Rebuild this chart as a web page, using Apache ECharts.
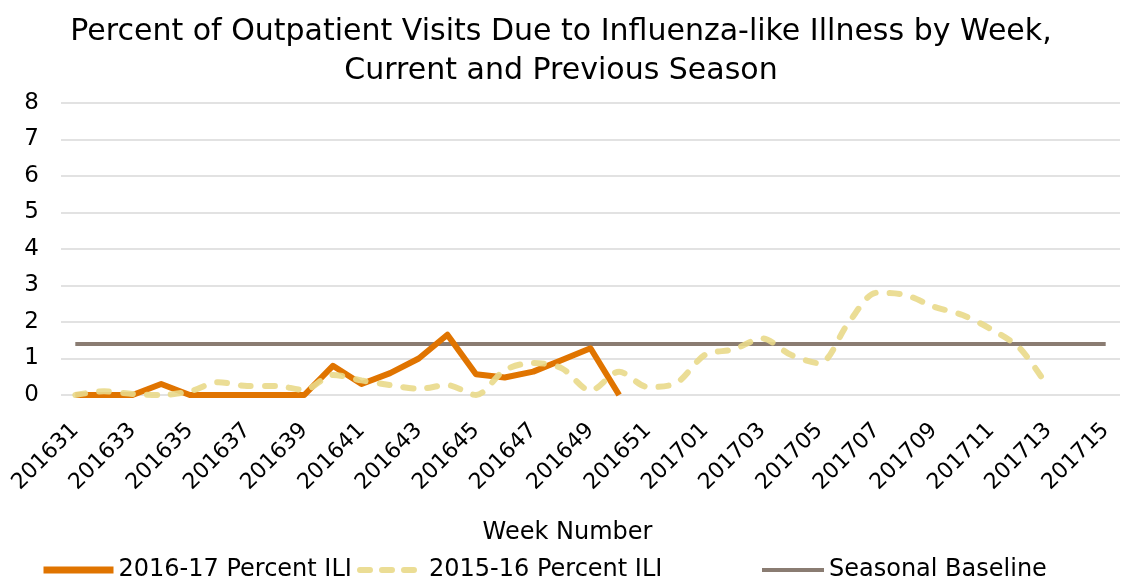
<!DOCTYPE html>
<html><head><meta charset="utf-8">
<script src="https://cdn.jsdelivr.net/npm/echarts@6/dist/echarts.min.js"></script>
<style>html,body{margin:0;padding:0;background:#fff}#c{width:1142px;height:581px}</style>
</head><body><div id="c"></div>
<script>
var weeks = ['201631','201632','201633','201634','201635','201636','201637','201638','201639','201640',
  '201641','201642','201643','201644','201645','201646','201647','201648','201649','201650',
  '201651','201652','201701','201702','201703','201704','201705','201706','201707','201708',
  '201709','201710','201711','201712','201713','201714','201715'];
var ili1617 = [0,0,0,0.3,0,0,0,0,0,0.8,0.3,0.6,1.0,1.65,0.57,0.48,0.64,0.96,1.28,0];
var ili1516 = [0,0.1,0.03,0,0.1,0.35,0.25,0.25,0.14,0.55,0.4,0.27,0.17,0.27,0,0.68,0.88,0.73,0.12,0.64,
  0.22,0.33,1.1,1.25,1.55,1.1,0.87,1.96,2.8,2.74,2.42,2.19,1.8,1.28,0.2];
var baselineValue = 1.4;
var baseline = weeks.map(function(){return baselineValue;});
var yTicks = {min:0, max:8, interval:1};

var FONT = 'DejaVu Sans';
var legendCommon = {top:553, itemHeight:14, itemGap:8,
  itemStyle:{opacity:0}, textStyle:{fontFamily:FONT, fontSize:24, color:'#000'}};
var chart = echarts.init(document.getElementById('c'));
chart.setOption({
  animation:false,
  textStyle:{fontFamily:FONT},
  title:{
    text:'Percent of Outpatient Visits Due to Influenza-like Illness by Week,\nCurrent and Previous Season',
    left:556, textAlign:'center', top:8,
    textStyle:{fontFamily:FONT, fontSize:30, fontWeight:'normal', color:'#000', lineHeight:39}
  },
  legend:[
    Object.assign({data:['2016-17 Percent ILI'], left:35, itemWidth:70,
      lineStyle:{width:7, color:'#E07400'}}, legendCommon),
    Object.assign({data:['2015-16 Percent ILI'], left:352, itemWidth:64,
      lineStyle:{width:6, color:'#E9D98A', type:[10,12], cap:'round'}}, legendCommon),
    Object.assign({data:['Seasonal Baseline'], left:755, itemWidth:62,
      lineStyle:{width:4, color:'#8A7C72'}}, legendCommon)
  ],
  grid:{left:61, right:22, top:103, bottom:186, containLabel:false},
  xAxis:{
    type:'category', data:weeks, boundaryGap:true,
    name:'Week Number', nameLocation:'middle', nameGap:126,
    nameTextStyle:{fontFamily:FONT, fontSize:24, color:'#000', padding:[0,46,0,0]},
    axisLine:{show:false}, axisTick:{show:false},
    axisLabel:{interval:1, rotate:45, fontFamily:FONT, fontSize:22, color:'#000', margin:32}
  },
  yAxis:{
    type:'value', min:yTicks.min, max:yTicks.max, interval:yTicks.interval,
    axisLine:{show:false}, axisTick:{show:false},
    axisLabel:{fontFamily:FONT, fontSize:23, color:'#000', margin:22},
    splitLine:{lineStyle:{color:'#D9D9D9', width:1.5}}
  },
  series:[
    {name:'Seasonal Baseline', type:'line', data:baseline, symbol:'none', z:1,
     lineStyle:{color:'#8A7C72', width:4}, itemStyle:{color:'#8A7C72'}},
    {name:'2016-17 Percent ILI', type:'line', data:ili1617, symbol:'none', z:2,
     lineStyle:{color:'#E07400', width:6, join:'round'}, itemStyle:{color:'#E07400'}},
    {name:'2015-16 Percent ILI', type:'line', data:ili1516, symbol:'none', z:3, smooth:0.3,
     lineStyle:{color:'#E9D98A', width:6, type:[10,14], cap:'round', opacity:0.9}, itemStyle:{color:'#E9D98A'}}
  ]
});
</script></body></html>
